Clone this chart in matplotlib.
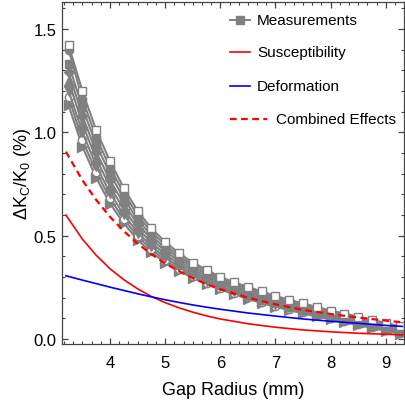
import numpy as np
import matplotlib
matplotlib.use("Agg")
import matplotlib.pyplot as plt
from matplotlib.ticker import MultipleLocator

plt.rcParams['font.family'] = ['Liberation Sans', 'DejaVu Sans']
plt.rcParams['mathtext.fontset'] = 'custom'
plt.rcParams['mathtext.rm'] = 'Liberation Sans'

# ---- data ----
x_meas = [3.25, 3.5, 3.75, 4.0, 4.25, 4.5, 4.75, 5.0, 5.25, 5.5, 5.75, 6.0, 6.25,
          6.5, 6.75, 7.0, 7.25, 7.5, 7.75, 8.0, 8.25, 8.5, 8.75, 9.0, 9.25]

meas_open_square = [1.42, 1.20, 1.01, 0.86, 0.73, 0.62, 0.535, 0.47, 0.415, 0.37, 0.335, 0.30, 0.275,
                    0.252, 0.23, 0.208, 0.19, 0.172, 0.155, 0.138, 0.123, 0.108, 0.093, 0.078, 0.062]
meas_circle = [1.40, 1.16, 0.975, 0.83, 0.705, 0.60, 0.518, 0.455, 0.402, 0.359, 0.325, 0.291, 0.266,
               0.243, 0.222, 0.200, 0.183, 0.165, 0.148, 0.132, 0.117, 0.102, 0.087, 0.072, 0.056]
meas_square = [1.33, 1.12, 0.94, 0.80, 0.68, 0.578, 0.50, 0.44, 0.39, 0.348, 0.314, 0.282, 0.257,
               0.235, 0.213, 0.192, 0.175, 0.158, 0.141, 0.125, 0.110, 0.096, 0.081, 0.067, 0.051]
meas_diamond = [1.29, 1.08, 0.905, 0.768, 0.654, 0.557, 0.483, 0.425, 0.377, 0.336, 0.304, 0.273, 0.248,
                0.226, 0.205, 0.185, 0.168, 0.150, 0.134, 0.119, 0.104, 0.090, 0.075, 0.061, 0.045]
meas_up = [1.25, 1.04, 0.872, 0.737, 0.628, 0.536, 0.466, 0.41, 0.364, 0.325, 0.293, 0.264, 0.240,
           0.217, 0.196, 0.177, 0.160, 0.143, 0.127, 0.112, 0.098, 0.083, 0.069, 0.055, 0.040]
meas_down = [1.20, 1.00, 0.838, 0.706, 0.603, 0.515, 0.449, 0.395, 0.351, 0.314, 0.283, 0.255, 0.231,
             0.209, 0.188, 0.169, 0.153, 0.136, 0.121, 0.106, 0.092, 0.077, 0.063, 0.050, 0.034]
meas_open_circle = [1.17, 0.962, 0.808, 0.68, 0.58, 0.497, 0.434, 0.382, 0.340, 0.304, 0.273, 0.247, 0.223,
                    0.201, 0.181, 0.162, 0.146, 0.130, 0.115, 0.100, 0.086, 0.072, 0.058, 0.045, 0.030]
meas_right = [1.13, 0.93, 0.78, 0.655, 0.56, 0.48, 0.42, 0.37, 0.33, 0.295, 0.265, 0.24, 0.216,
              0.194, 0.174, 0.156, 0.14, 0.124, 0.109, 0.095, 0.081, 0.067, 0.053, 0.04, 0.025]

x_theory = [3.2, 3.5, 3.75, 4.0, 4.25, 4.5, 4.75, 5.0, 5.25, 5.5, 5.75, 6.0, 6.5, 7.0, 7.5, 8.0, 8.5, 9.0, 9.3]
susceptibility = [0.600, 0.483, 0.405, 0.340, 0.287, 0.243, 0.206, 0.176, 0.151, 0.130, 0.112, 0.097,
                  0.074, 0.057, 0.044, 0.035, 0.028, 0.023, 0.020]
deformation = [0.306, 0.285, 0.268, 0.251, 0.235, 0.219, 0.204, 0.190, 0.177, 0.165, 0.154, 0.144,
               0.126, 0.111, 0.097, 0.086, 0.076, 0.066, 0.061]
combined = [0.906, 0.768, 0.673, 0.591, 0.522, 0.462, 0.410, 0.366, 0.328, 0.295, 0.266, 0.241,
            0.200, 0.168, 0.141, 0.121, 0.104, 0.089, 0.081]

legend_labels = ["Measurements", "Susceptibility", "Deformation", "Combined Effects"]
x_ticks = [4, 5, 6, 7, 8, 9]
y_ticks = [0.0, 0.5, 1.0, 1.5]

# ---- figure ----
fig = plt.figure(figsize=(4.05, 4.06), dpi=100)
ax = fig.add_axes([62/405, 61/406, 342/405, 342/406])

gray = '#808080'
series = [
    (meas_right, '>', True),
    (meas_open_circle, 'o', False),
    (meas_down, 'v', True),
    (meas_up, '^', True),
    (meas_diamond, 'D', True),
    (meas_square, 's', True),
    (meas_circle, 'o', True),
    (meas_open_square, 's', False),
]
for vals, mk, filled in series:
    ms = 6.0 if mk in ('s', 'o') else 6.5
    if mk == 'D':
        ms = 5.0
    ax.plot(x_meas, vals, color=gray, lw=1.5, marker=mk, ms=ms,
            mfc=gray if filled else 'white', mec=gray, mew=1.0, zorder=2)

ax.plot(x_theory, susceptibility, color='#ff0000', lw=1.2, zorder=3)
ax.plot(x_theory, deformation, color='#0000ff', lw=1.2, zorder=3)
ax.plot(x_theory, combined, color='#ff0000', lw=1.6, ls=(0, (3, 2)), zorder=4)

ax.set_xlim(3.13, 9.33)
ax.set_ylim(-0.024, 1.63)
ax.set_xticks(x_ticks)
ax.set_yticks(y_ticks)
ax.set_yticklabels([f"{v:.1f}" for v in y_ticks])
ax.xaxis.set_minor_locator(MultipleLocator(1/6))
ax.yaxis.set_minor_locator(MultipleLocator(0.1))
ax.tick_params(which='both', direction='in', top=True, right=True, labeltop=False, labelright=False,
               color='#444444', labelsize=12)
ax.tick_params(axis='x', pad=8)
ax.tick_params(axis='y', pad=4)
ax.tick_params(which='major', length=4, width=0.9)
ax.tick_params(which='minor', length=2, width=0.8)
for s in ax.spines.values():
    s.set_color('#444444')
    s.set_linewidth(0.9)

ax.set_xlabel("Gap Radius (mm)", fontsize=13, labelpad=8)
ax.set_ylabel(r"$\mathregular{\Delta K_C/K_0}$ (%)", fontsize=13, labelpad=0)

# ---- legend (manual, Mathematica style) ----
tr = ax.transAxes
ly = [0.947, 0.854, 0.754, 0.658]
ax.plot([0.491, 0.550], [ly[0], ly[0]], color=gray, lw=1.4, transform=tr, clip_on=False)
ax.plot([0.5205], [ly[0]], color=gray, marker='s', ms=6, transform=tr, clip_on=False)
ax.plot([0.491, 0.550], [ly[1], ly[1]], color='#ff0000', lw=1.2, transform=tr)
ax.plot([0.491, 0.550], [ly[2], ly[2]], color='#0000ff', lw=1.2, transform=tr)
ax.plot([0.491, 0.599], [ly[3], ly[3]], color='#ff0000', lw=1.6, ls=(0, (3, 2)), transform=tr)
tx = [0.570, 0.570, 0.570, 0.626]
for lab, yy, xx in zip(legend_labels, ly, tx):
    ax.text(xx, yy, lab, transform=tr, fontsize=11, va='center', ha='left')

fig.savefig("out.png", dpi=100)
